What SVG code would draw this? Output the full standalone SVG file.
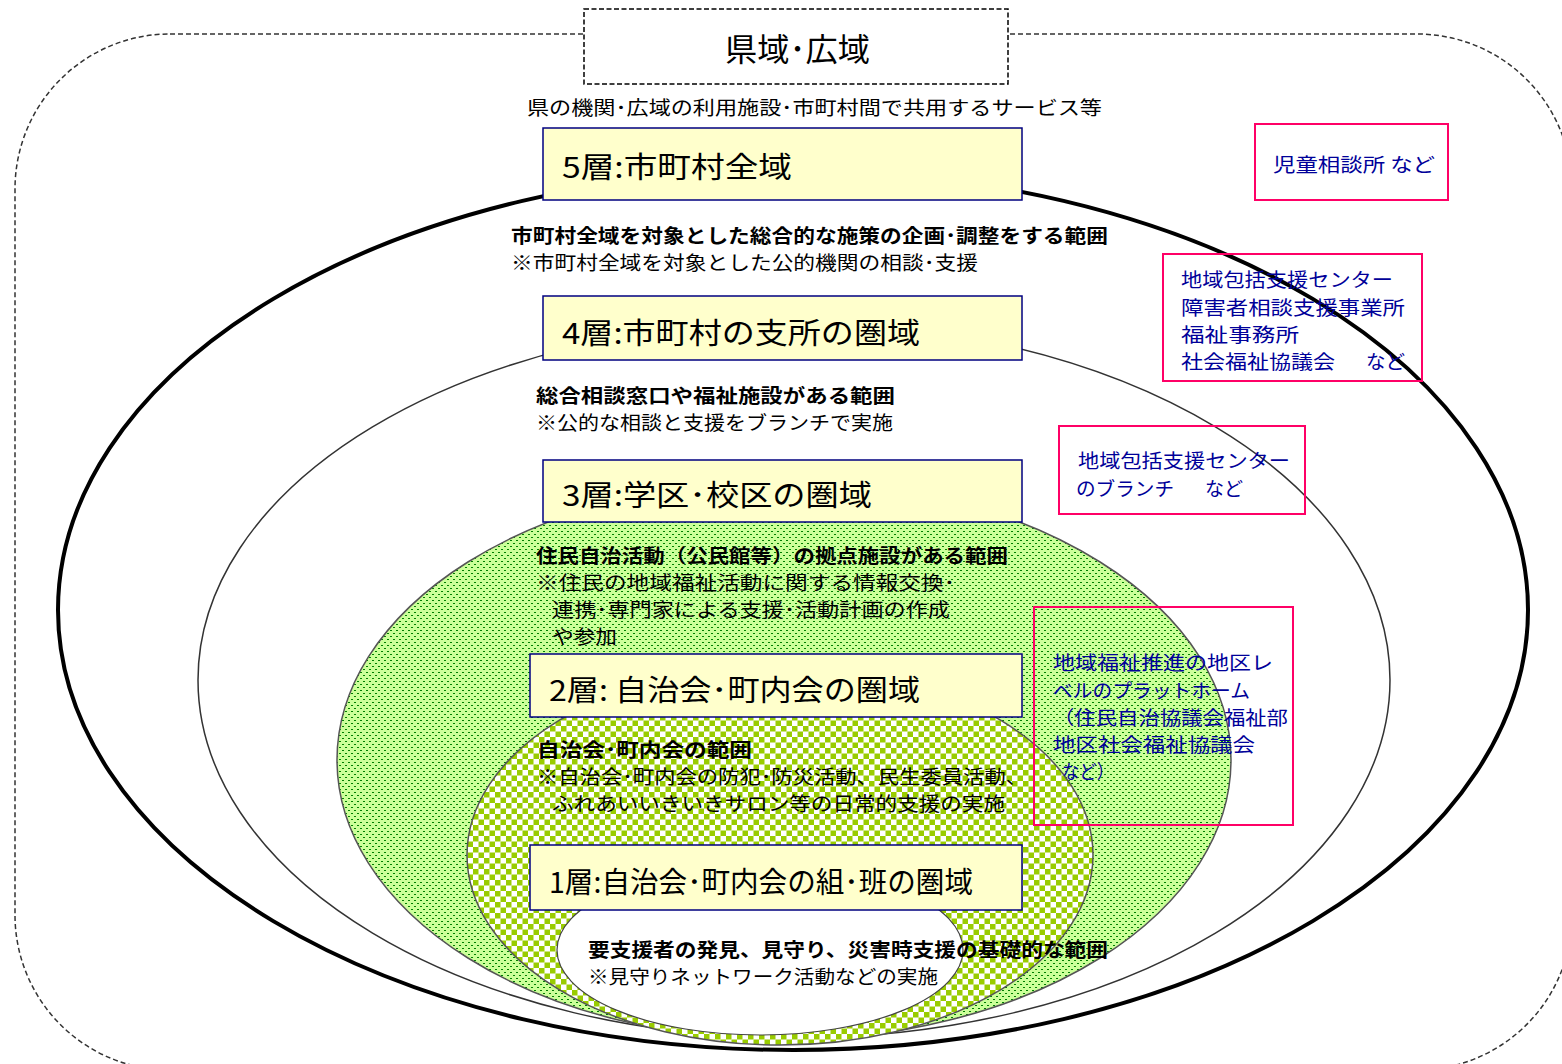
<svg xmlns="http://www.w3.org/2000/svg" width="1562" height="1064" viewBox="0 0 1562 1064">
<defs>
<pattern id="dots" width="6" height="6" patternUnits="userSpaceOnUse"><rect width="6" height="6" fill="#ccff99"/><rect x="0" y="0" width="2" height="1" fill="#008000"/><rect x="3" y="3" width="2" height="1" fill="#008000"/></pattern>
<pattern id="checker" width="11" height="11" patternUnits="userSpaceOnUse"><rect width="11" height="11" fill="#ffffff"/><rect x="0" y="0" width="5.5" height="5.5" fill="#99cc00"/><rect x="5.5" y="5.5" width="5.5" height="5.5" fill="#99cc00"/></pattern>
<style>
text{font-family:"Noto Sans CJK JP","Noto Sans",sans-serif;fill:#000}
.layer{fill:#ffffcc;stroke:#000080;stroke-width:1.5}
.lt{font-size:29px}
.d{font-size:19px}
.b{font-size:19px;font-weight:bold}
.pink{fill:none;stroke:#ff0066;stroke-width:2}
.pt{font-size:19px;fill:#000099}
</style>
</defs>
<rect width="1562" height="1064" fill="#fff"/>
<g id="region-outer">
<rect x="15" y="34" width="1557" height="1036" rx="155" ry="155" fill="none" stroke="#333" stroke-width="1.5" stroke-dasharray="5 3"/>
</g>
<g id="ellipses">
<ellipse id="e5" cx="793" cy="610" rx="735" ry="440" fill="#fff" stroke="#000" stroke-width="4"/>
<ellipse id="e4" cx="794" cy="680" rx="596" ry="358" fill="#fff" stroke="#333" stroke-width="1.5"/>
<ellipse id="e3" cx="784" cy="760" rx="447" ry="280" fill="url(#dots)" stroke="#555" stroke-width="1.5"/>
<ellipse id="e2" cx="780" cy="855" rx="313" ry="190" fill="url(#checker)" stroke="#555" stroke-width="1.5"/>
<ellipse id="e1" cx="760" cy="950" rx="203" ry="85" fill="#fff" stroke="#444" stroke-width="1.2"/>
</g>
<g id="title">
<rect x="584" y="9" width="424" height="75" fill="#fff" stroke="#000" stroke-width="1.5" stroke-dasharray="5 2.5"/>
<text x="725" y="61" font-size="32" textLength="145" lengthAdjust="spacingAndGlyphs">県域･広域</text>
<text class="d" x="527" y="115" textLength="575" lengthAdjust="spacingAndGlyphs">県の機関･広域の利用施設･市町村間で共用するサービス等</text>
</g>
<g id="layer5">
<rect class="layer" x="543" y="128" width="479" height="72"/>
<text class="lt" x="562" y="178" textLength="230" lengthAdjust="spacingAndGlyphs">5層:市町村全域</text>
<text class="b" x="511" y="243" textLength="597" lengthAdjust="spacingAndGlyphs">市町村全域を対象とした総合的な施策の企画･調整をする範囲</text>
<text class="d" x="511" y="270" textLength="467" lengthAdjust="spacingAndGlyphs">※市町村全域を対象とした公的機関の相談･支援</text>
</g>
<g id="layer4">
<rect class="layer" x="543" y="296" width="479" height="64"/>
<text class="lt" x="562" y="344" textLength="358" lengthAdjust="spacingAndGlyphs">4層:市町村の支所の圏域</text>
<text class="b" x="536" y="403" textLength="359" lengthAdjust="spacingAndGlyphs">総合相談窓口や福祉施設がある範囲</text>
<text class="d" x="536" y="430" textLength="357" lengthAdjust="spacingAndGlyphs">※公的な相談と支援をブランチで実施</text>
</g>
<g id="layer3">
<rect class="layer" x="543" y="460" width="479" height="62"/>
<text class="lt" x="562" y="506" textLength="310" lengthAdjust="spacingAndGlyphs">3層:学区･校区の圏域</text>
<text class="b" x="536" y="563" textLength="472" lengthAdjust="spacingAndGlyphs">住民自治活動（公民館等）の拠点施設がある範囲</text>
<text class="d" x="536" y="590" textLength="419" lengthAdjust="spacingAndGlyphs">※住民の地域福祉活動に関する情報交換･</text>
<text class="d" x="552" y="617" textLength="398" lengthAdjust="spacingAndGlyphs">連携･専門家による支援･活動計画の作成</text>
<text class="d" x="552" y="644" textLength="65" lengthAdjust="spacingAndGlyphs">や参加</text>
</g>
<g id="layer2">
<rect class="layer" x="530" y="654" width="492" height="63"/>
<text class="lt" x="549" y="701" textLength="371" lengthAdjust="spacingAndGlyphs">2層: 自治会･町内会の圏域</text>
<text class="b" x="537" y="757" textLength="215" lengthAdjust="spacingAndGlyphs">自治会･町内会の範囲</text>
<text class="d" x="537" y="784" textLength="490" lengthAdjust="spacingAndGlyphs">※自治会･町内会の防犯･防災活動、民生委員活動、</text>
<text class="d" x="552" y="811" textLength="453" lengthAdjust="spacingAndGlyphs">ふれあいいきいきサロン等の日常的支援の実施</text>
</g>
<g id="layer1">
<rect class="layer" x="530" y="845" width="492" height="65"/>
<text class="lt" x="549" y="893" textLength="424" lengthAdjust="spacingAndGlyphs">1層:自治会･町内会の組･班の圏域</text>
<text class="b" x="588" y="957" textLength="520" lengthAdjust="spacingAndGlyphs">要支援者の発見、見守り、災害時支援の基礎的な範囲</text>
<text class="d" x="588" y="984" textLength="350" lengthAdjust="spacingAndGlyphs">※見守りネットワーク活動などの実施</text>
</g>
<g id="note5">
<rect class="pink" x="1255" y="124" width="193" height="76"/>
<text class="pt" x="1273" y="172" textLength="162" lengthAdjust="spacingAndGlyphs">児童相談所  など</text>
</g>
<g id="note4">
<rect class="pink" x="1163" y="254" width="259" height="127"/>
<text class="pt" x="1181" y="287" textLength="212" lengthAdjust="spacingAndGlyphs">地域包括支援センター</text>
<text class="pt" x="1181" y="315" textLength="224" lengthAdjust="spacingAndGlyphs">障害者相談支援事業所</text>
<text class="pt" x="1181" y="342" textLength="118" lengthAdjust="spacingAndGlyphs">福祉事務所</text>
<text class="pt" x="1181" y="369" textLength="154" lengthAdjust="spacingAndGlyphs">社会福祉協議会</text>
<text class="pt" x="1366" y="369" textLength="39" lengthAdjust="spacingAndGlyphs">など</text>
</g>
<g id="note3">
<rect class="pink" x="1059" y="426" width="246" height="88"/>
<text class="pt" x="1078" y="468" textLength="212" lengthAdjust="spacingAndGlyphs">地域包括支援センター</text>
<text class="pt" x="1076" y="496" textLength="98" lengthAdjust="spacingAndGlyphs">のブランチ</text>
<text class="pt" x="1205" y="496" textLength="38" lengthAdjust="spacingAndGlyphs">など</text>
</g>
<g id="note2">
<rect class="pink" x="1034" y="607" width="259" height="218" stroke-width="2.5"/>
<text class="pt" x="1053" y="670" textLength="220" lengthAdjust="spacingAndGlyphs">地域福祉推進の地区レ</text>
<text class="pt" x="1053" y="698" textLength="197" lengthAdjust="spacingAndGlyphs">ベルのプラットホーム</text>
<text class="pt" x="1053" y="725" textLength="235" lengthAdjust="spacingAndGlyphs">（住民自治協議会福祉部</text>
<text class="pt" x="1053" y="752" textLength="202" lengthAdjust="spacingAndGlyphs">地区社会福祉協議会</text>
<text class="pt" x="1062" y="779" textLength="52" lengthAdjust="spacingAndGlyphs">など）</text>
</g>
</svg>
